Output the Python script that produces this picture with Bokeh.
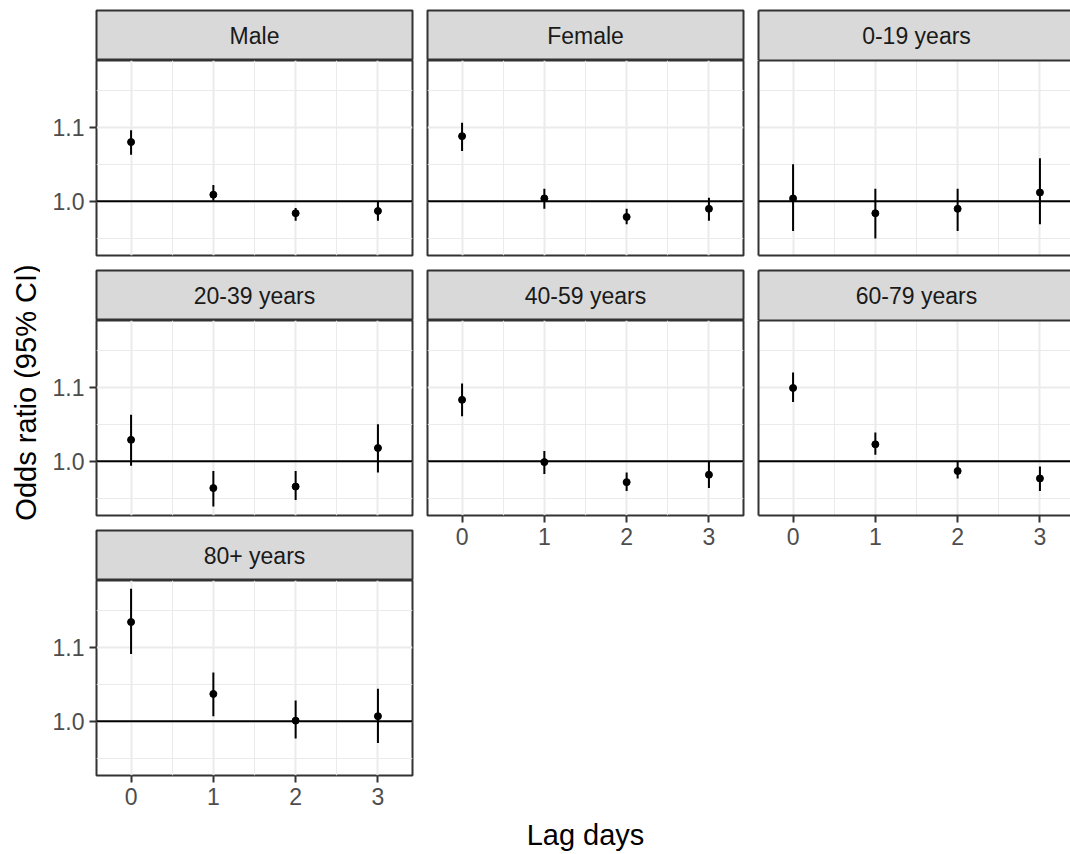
import math
from bokeh.plotting import figure
from bokeh.models import (Range1d, FixedTicker, LinearAxis, PrintfTickFormatter,
                          Span, Label, ColumnDataSource)
from bokeh.layouts import row, column
from bokeh.embed import file_html
from bokeh.resources import INLINE

# ---------------- data ----------------
lag_days = [0, 1, 2, 3]
panel_names = ["Male", "Female", "0-19 years", "20-39 years",
               "40-59 years", "60-79 years", "80+ years"]

or_male = [1.080, 1.009, 0.984, 0.987]
lo_male = [1.063, 1.001, 0.974, 0.974]
hi_male = [1.096, 1.022, 0.991, 0.999]

or_female = [1.088, 1.004, 0.979, 0.990]
lo_female = [1.068, 0.990, 0.969, 0.974]
hi_female = [1.106, 1.017, 0.990, 1.005]

or_0_19 = [1.004, 0.984, 0.990, 1.012]
lo_0_19 = [0.960, 0.950, 0.960, 0.969]
hi_0_19 = [1.050, 1.017, 1.017, 1.058]

or_20_39 = [1.029, 0.964, 0.966, 1.018]
lo_20_39 = [0.994, 0.939, 0.948, 0.985]
hi_20_39 = [1.063, 0.987, 0.987, 1.050]

or_40_59 = [1.083, 0.999, 0.972, 0.982]
lo_40_59 = [1.061, 0.983, 0.960, 0.964]
hi_40_59 = [1.105, 1.014, 0.985, 1.000]

or_60_79 = [1.099, 1.023, 0.987, 0.977]
lo_60_79 = [1.080, 1.009, 0.977, 0.960]
hi_60_79 = [1.120, 1.039, 1.000, 0.993]

or_80 = [1.134, 1.037, 1.001, 1.007]
lo_80 = [1.091, 1.007, 0.977, 0.971]
hi_80 = [1.179, 1.066, 1.028, 1.044]

y_major_ticks = [1.0, 1.1]
y_minor_ticks = [0.95, 1.05, 1.15]
x_minor_ticks = [0.5, 1.5, 2.5]
reference_or = 1.0

x_axis_title = "Lag days"
y_axis_title = "Odds ratio (95% CI)"

panel_data = {
    "Male": (or_male, lo_male, hi_male),
    "Female": (or_female, lo_female, hi_female),
    "0-19 years": (or_0_19, lo_0_19, hi_0_19),
    "20-39 years": (or_20_39, lo_20_39, hi_20_39),
    "40-59 years": (or_40_59, lo_40_59, hi_40_59),
    "60-79 years": (or_60_79, lo_60_79, hi_60_79),
    "80+ years": (or_80, lo_80, hi_80),
}

# ---------------- style ----------------
FONT = "Liberation Sans"
GRAY20 = "#333333"
GRAY30 = "#4D4D4D"
GRID = "#EBEBEB"
STRIP_FILL = "#D9D9D9"
X_START, X_END = -0.42, 3.42
Y_START, Y_END = 0.927, 1.190
FRAME_W, FRAME_H, STRIP_H = 316, 195, 50
TICK_FS = "23px"
TITLE_FS = "29px"
BOTTOM_AXIS_BORDER = 40


def style_axis(ax, line=False):
    ax.axis_line_color = GRAY20 if line else None
    ax.axis_line_width = 2
    ax.major_tick_line_color = GRAY20
    ax.major_tick_line_width = 2
    ax.major_tick_out = 7
    ax.major_tick_in = 0
    ax.minor_tick_line_color = None
    ax.minor_tick_out = 0
    ax.minor_tick_in = 0
    ax.major_label_text_font = FONT
    ax.major_label_text_font_size = TICK_FS
    ax.major_label_text_color = GRAY30
    ax.major_label_standoff = 5


def border_axis(fig, side):
    ax = LinearAxis(ticker=FixedTicker(ticks=[]))
    ax.axis_line_color = GRAY20
    ax.axis_line_width = 2
    ax.major_tick_line_color = None
    ax.minor_tick_line_color = None
    ax.major_tick_out = 0
    ax.major_tick_in = 0
    ax.minor_tick_out = 0
    ax.minor_tick_in = 0
    ax.major_label_standoff = 0
    ax.axis_label_standoff = 0
    fig.add_layout(ax, side)


def strip_fig(name, left, right, top, fw=FRAME_W, open_right=False):
    xe = X_START + (X_END - X_START) * fw / FRAME_W
    s = figure(x_range=Range1d(X_START, xe), y_range=Range1d(0, 1),
               frame_width=fw, frame_height=STRIP_H,
               x_axis_location=None, y_axis_location=None,
               toolbar_location=None, output_backend="svg",
               min_border_left=left, min_border_right=right,
               min_border_top=top, min_border_bottom=0,
               background_fill_color=STRIP_FILL, border_fill_color="white",
               outline_line_color=None if open_right else GRAY20,
               outline_line_width=2)
    s.grid.visible = False
    if open_right:
        border_axis(s, "left")
        border_axis(s, "above")
        border_axis(s, "below")
    s.add_layout(Label(x=(X_START + X_END) / 2, y=0.5, text=name,
                       text_align="center", text_baseline="middle",
                       text_font=FONT, text_font_size=TICK_FS,
                       text_color="#1A1A1A"))
    return s


def panel_fig(name, left, right, bottom, yaxis=False, xaxis=False,
              fw=FRAME_W, open_right=False):
    est, lo, hi = panel_data[name]
    xe = X_START + (X_END - X_START) * fw / FRAME_W
    p = figure(x_range=Range1d(X_START, xe), y_range=Range1d(Y_START, Y_END),
               frame_width=fw, frame_height=FRAME_H,
               x_axis_location=None, y_axis_location=None,
               toolbar_location=None, output_backend="svg",
               min_border_left=left, min_border_right=right,
               min_border_top=0, min_border_bottom=bottom,
               background_fill_color="white", border_fill_color="white",
               outline_line_color=None if open_right else GRAY20,
               outline_line_width=2)
    p.xgrid.ticker = FixedTicker(ticks=lag_days, minor_ticks=x_minor_ticks)
    p.ygrid.ticker = FixedTicker(ticks=y_major_ticks, minor_ticks=y_minor_ticks)
    for g in p.grid:
        g.grid_line_color = GRID
        g.grid_line_width = 2
        g.minor_grid_line_color = GRID
        g.minor_grid_line_width = 1

    if yaxis:
        ya = LinearAxis(ticker=FixedTicker(ticks=y_major_ticks),
                        formatter=PrintfTickFormatter(format="%.1f"))
        style_axis(ya)
        p.add_layout(ya, "left")
    if xaxis:
        xa = LinearAxis(ticker=FixedTicker(ticks=lag_days))
        style_axis(xa, line=open_right)
        p.add_layout(xa, "below")
    if open_right:
        border_axis(p, "left")
        border_axis(p, "above")
        if not xaxis:
            border_axis(p, "below")

    p.add_layout(Span(location=reference_or, dimension="width",
                      line_color="black", line_width=2))
    src = ColumnDataSource(dict(lag=lag_days, est=est, lo=lo, hi=hi))
    p.segment(x0="lag", y0="lo", x1="lag", y1="hi", source=src,
              line_color="black", line_width=2)
    p.scatter(x="lag", y="est", source=src, size=7, color="black")
    return p


# ---------------- layout ----------------
L1, R1 = 56, 7
L2, R2 = 8, 7
L3 = 8
FW3 = 1070 - (40 + L1 + FRAME_W + R1) - (L2 + FRAME_W + R2) - L3

col1 = column(
    strip_fig("Male", L1, R1, 10),
    panel_fig("Male", L1, R1, 14, yaxis=True),
    strip_fig("20-39 years", L1, R1, 1),
    panel_fig("20-39 years", L1, R1, 14, yaxis=True),
    strip_fig("80+ years", L1, R1, 1),
    panel_fig("80+ years", L1, R1, BOTTOM_AXIS_BORDER, yaxis=True, xaxis=True),
    spacing=0)

col2 = column(
    strip_fig("Female", L2, R2, 10),
    panel_fig("Female", L2, R2, 14),
    strip_fig("40-59 years", L2, R2, 1),
    panel_fig("40-59 years", L2, R2, BOTTOM_AXIS_BORDER, xaxis=True),
    spacing=0)

col3 = column(
    strip_fig("0-19 years", L3, 0, 10, fw=FW3, open_right=True),
    panel_fig("0-19 years", L3, 0, 14, fw=FW3, open_right=True),
    strip_fig("60-79 years", L3, 0, 1, fw=FW3, open_right=True),
    panel_fig("60-79 years", L3, 0, BOTTOM_AXIS_BORDER, xaxis=True,
              fw=FW3, open_right=True),
    spacing=0)

COL_H = 10 + (STRIP_H + FRAME_H) * 3 + 14 + 1 + 14 + 1 + BOTTOM_AXIS_BORDER

ylab = figure(x_range=Range1d(0, 40), y_range=Range1d(0, COL_H),
              frame_width=40, frame_height=COL_H,
              x_axis_location=None, y_axis_location=None,
              toolbar_location=None, output_backend="svg",
              min_border_left=0, min_border_right=0,
              min_border_top=0, min_border_bottom=0,
              outline_line_color=None)
ylab.grid.visible = False
ylab.add_layout(Label(x=25, y=COL_H - 392, text=y_axis_title, angle=math.pi / 2,
                      text_align="center", text_baseline="middle",
                      text_font=FONT, text_font_size=TITLE_FS, text_color="black"))

XLAB_H = 854 - COL_H
xlab = figure(x_range=Range1d(0, 1070), y_range=Range1d(0, XLAB_H),
              frame_width=1070, frame_height=XLAB_H,
              x_axis_location=None, y_axis_location=None,
              toolbar_location=None, output_backend="svg",
              min_border_left=0, min_border_right=0,
              min_border_top=0, min_border_bottom=0,
              outline_line_color=None)
xlab.grid.visible = False
xlab.add_layout(Label(x=585, y=XLAB_H / 2, text=x_axis_title,
                      text_align="center", text_baseline="middle",
                      text_font=FONT, text_font_size=TITLE_FS, text_color="black"))

layout = column(row(ylab, col1, col2, col3, spacing=0), xlab, spacing=0)

open("out.html", "w").write(file_html(layout, INLINE))
